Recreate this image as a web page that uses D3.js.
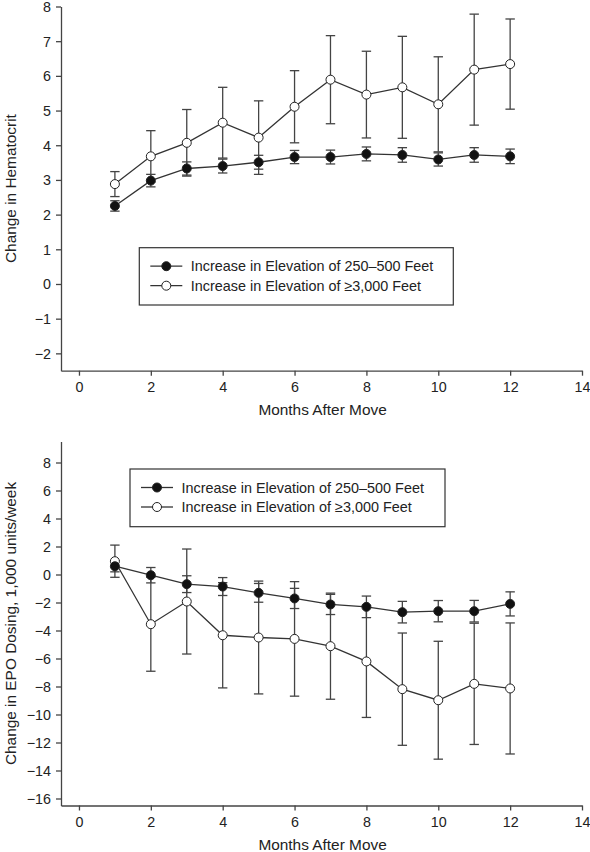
<!DOCTYPE html>
<html><head><meta charset="utf-8">
<script src="https://cdn.jsdelivr.net/npm/d3@7"></script>
<style>body{margin:0;background:#fff}svg{display:block}text{font-family:"Liberation Sans",Arial,sans-serif;fill:#222}</style>
</head><body>
<svg id="c" width="590" height="852"></svg>
<script>
const months = [1,2,3,4,5,6,7,8,9,10,11,12];
const seriesNames = ["Increase in Elevation of 250\u2013500 Feet", "Increase in Elevation of \u22653,000 Feet"];
// Top panel: change in hematocrit
const hctLow = [2.25,2.98,3.33,3.40,3.51,3.66,3.66,3.75,3.72,3.59,3.72,3.68];
const hctLowErr = [0.15,0.18,0.19,0.2,0.2,0.19,0.2,0.2,0.21,0.19,0.21,0.21];
const hctHigh = [2.88,3.68,4.07,4.65,4.22,5.11,5.89,5.46,5.67,5.18,6.18,6.34];
const hctHighErr = [0.36,0.74,0.96,1.02,1.06,1.04,1.27,1.25,1.47,1.37,1.6,1.3];
const hctTicks = [-2,-1,0,1,2,3,4,5,6,7,8];
// Bottom panel: change in EPO dosing
const epoLow = [0.59,-0.05,-0.69,-0.86,-1.31,-1.71,-2.14,-2.31,-2.69,-2.62,-2.62,-2.1];
const epoLowErr = [0.4,0.55,0.6,0.64,0.67,0.72,0.72,0.77,0.77,0.76,0.77,0.86];
const epoHigh = [0.95,-3.55,-1.93,-4.34,-4.5,-4.6,-5.12,-6.21,-8.19,-8.98,-7.81,-8.14];
const epoHighErr = [1.15,3.36,3.75,3.76,4.03,4.09,3.79,4.0,4.01,4.21,4.33,4.68];
const epoTicks = [-16,-14,-12,-10,-8,-6,-4,-2,0,2,4,6,8];
const xTicks = [0,2,4,6,8,10,12,14];

const svg = d3.select("#c");
const x = d3.scaleLinear().domain([-0.5,14]).range([61,582]);
const FONT='"Liberation Sans",Arial,sans-serif';

function panel(cfg){
  const y = d3.scaleLinear().domain(cfg.ydom).range(cfg.yrange);
  const g = svg.append("g");
  const ax = g.append("g").attr("transform",`translate(0,${cfg.yrange[0]})`)
    .call(d3.axisBottom(x).tickValues(xTicks).tickSize(5).tickPadding(6).tickSizeOuter(0));
  const ay = g.append("g").attr("transform",`translate(61,0)`)
    .call(d3.axisLeft(y).tickValues(cfg.yticks).tickSize(5).tickPadding(5).tickSizeOuter(0)
      .tickFormat(d=>d<0?"\u2212"+Math.abs(d):d));
  [ax,ay].forEach(a=>{
    a.selectAll("path,line").attr("stroke","#444").attr("stroke-width",1.3);
    a.selectAll("text").attr("font-size",14.3).attr("fill","#222").style("font-family",FONT);
  });
  ay.selectAll(".tick text").attr("dy","0.34em");
  g.append("text").attr("x",x(6.78)).attr("y",cfg.yrange[0]+44).attr("text-anchor","middle")
    .attr("font-size",15.4).text("Months After Move");
  const cy=(cfg.yrange[0]+cfg.yrange[1])/2;
  g.append("text").attr("transform",`translate(15.5,${cy}) rotate(-90)`).attr("text-anchor","middle")
    .attr("font-size",15.4).text(cfg.ylabel);

  const series=[{v:cfg.high,e:cfg.highErr,fill:"#fff"},{v:cfg.low,e:cfg.lowErr,fill:"#111"}];
  series.forEach(s=>{
    const eg=g.append("g").attr("stroke","#444").attr("stroke-width",1.3);
    months.forEach((m,i)=>{
      const x0=x(m), y1=y(s.v[i]+s.e[i]), y2=y(s.v[i]-s.e[i]);
      eg.append("line").attr("x1",x0).attr("x2",x0).attr("y1",y1).attr("y2",y2);
      eg.append("line").attr("x1",x0-4.7).attr("x2",x0+4.7).attr("y1",y1).attr("y2",y1);
      eg.append("line").attr("x1",x0-4.7).attr("x2",x0+4.7).attr("y1",y2).attr("y2",y2);
    });
  });
  const line=d3.line().x((d,i)=>x(months[i])).y(d=>y(d));
  series.forEach(s=>{
    g.append("path").attr("d",line(s.v)).attr("fill","none").attr("stroke","#333").attr("stroke-width",1.3);
  });
  series.forEach(s=>{
    g.selectAll(null).data(s.v).enter().append("circle")
      .attr("cx",(d,i)=>x(months[i])).attr("cy",d=>y(d)).attr("r",4.5)
      .attr("fill",s.fill).attr("stroke","#222").attr("stroke-width",1);
  });
  const L=cfg.legend;
  g.append("rect").attr("x",L.x).attr("y",L.y).attr("width",L.w).attr("height",L.h)
    .attr("fill","#fff").attr("stroke","#333").attr("stroke-width",1.2);
  const fills=["#111","#fff"];
  seriesNames.forEach((n,k)=>{
    const ry=L.y+18.5+k*19.5;
    g.append("line").attr("x1",L.x+11).attr("x2",L.x+43).attr("y1",ry).attr("y2",ry)
      .attr("stroke","#333").attr("stroke-width",1.3);
    g.append("circle").attr("cx",L.x+27).attr("cy",ry).attr("r",4.5).attr("fill",fills[k])
      .attr("stroke","#222").attr("stroke-width",1);
    g.append("text").attr("x",L.x+51.5).attr("y",ry).attr("dy","0.36em").attr("font-size",14.4).text(n);
  });
}

panel({ydom:[-2.5,8], yrange:[370.7,6.5], yticks:hctTicks, ylabel:"Change in Hematocrit",
  low:hctLow, lowErr:hctLowErr, high:hctHigh, highErr:hctHighErr,
  legend:{x:139.3,y:247.7,w:314,h:57.3}});
panel({ydom:[-16.5,9.5], yrange:[805.5,441.5], yticks:epoTicks, ylabel:"Change in EPO Dosing, 1,000 units/week",
  low:epoLow, lowErr:epoLowErr, high:epoHigh, highErr:epoHighErr,
  legend:{x:130,y:469,w:315,h:57.7}});
</script>
</body></html>
